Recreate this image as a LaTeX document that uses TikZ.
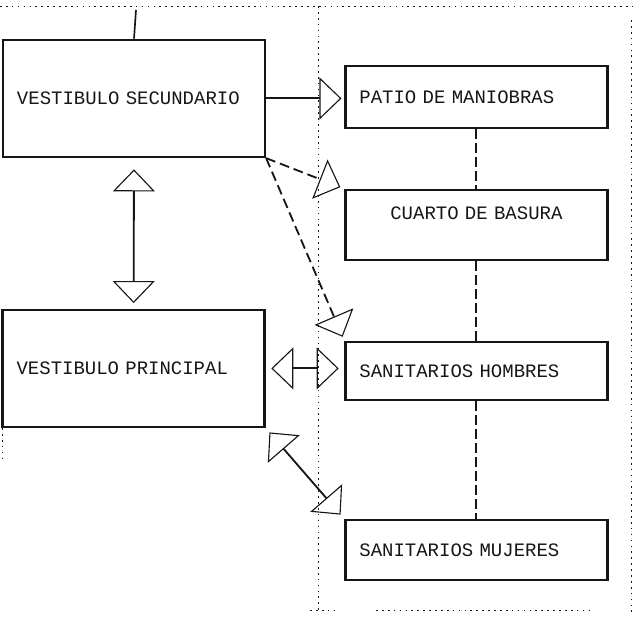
\documentclass[tikz,border=0pt]{standalone}
\usepackage{fontspec}
\setmonofont{Liberation Mono}
\usepackage{tikz}
\usetikzlibrary{arrows.meta, positioning, calc}
\definecolor{tinta}{HTML}{161616}
\tikzset{
  sala/.style={draw=tinta, line width=1.6pt, minimum width=6.55cm, inner xsep=0.35cm,
               text width=5.85cm, align=left, text=tinta,
               font=\ttfamily\fontsize{13.5}{15}\selectfont},
  flujo/.style={-{Triangle[open, length=0.55cm, width=1.05cm, line width=0.8pt]},
                line width=1.3pt, draw=tinta},
  biflujo/.style={{Triangle[open, length=0.55cm, width=1.05cm, line width=0.8pt]}-{Triangle[open, length=0.55cm, width=1.05cm, line width=0.8pt]},
                  line width=1.3pt, draw=tinta},
  liga/.style={draw=tinta, line width=1.5pt, dash pattern=on 7pt off 3pt},
  muro/.style={draw=tinta, line width=0.6pt, dash pattern=on 1.2pt off 3pt},
}

\begin{document}
\begin{tikzpicture}
  \useasboundingbox (0,0) rectangle (15.85,-15.4);
  % limites (punteados)
  \draw[muro] (0,-0.15) -- (15.85,-0.15);
  \draw[muro] (7.95,-0.15) -- (7.95,-15.3);
  \draw[muro] (15.78,-0.5) -- (15.78,-15.3);
  \draw[muro] (7.75,-15.25) -- (8.4,-15.25);
  \draw[muro] (9.4,-15.25) -- (14.75,-15.25);
  \draw[muro] (0.05,-10.7) -- (0.05,-11.55);
  % zona publica
  \node[sala, minimum height=2.93cm] (vs) at (3.35,-2.46) {VESTIBULO SECUNDARIO};
  \node[sala, minimum height=2.93cm] (vp) at (3.34,-9.21) {VESTIBULO PRINCIPAL};
  % zona de servicio
  \node[sala, minimum height=1.55cm] (pm) at (11.91,-2.42) {PATIO DE MANIOBRAS};
  \node[sala, minimum height=1.75cm, align=center, text depth=0.6cm] (cb) at (11.91,-5.62) {CUARTO DE BASURA};
  \node[sala, minimum height=1.45cm] (sh) at (11.91,-9.27) {SANITARIOS HOMBRES};
  \node[sala, minimum height=1.5cm] (sm) at (11.91,-13.75) {SANITARIOS MUJERES};
  \coordinate (acceso) at (3.4,-0.25);
  \draw[draw=tinta, line width=1.2pt] (acceso) -- (vs.north);
  % ligas de servicio
  \draw[liga] (pm) -- (cb);
  \draw[liga] (cb) -- (sh);
  \draw[liga] (sh) -- (sm);
  % circulaciones
  \draw[flujo, shorten >=2pt] (vs.east) -- (vs.east -| pm.west);
  \draw[biflujo, shorten <=8pt, shorten >=4pt] (vs.south) -- (vp.north);
  \draw[flujo, dash pattern=on 7pt off 3.5pt, shorten >=3pt] (vs.south east) -- (cb.north west);
  \draw[flujo, dash pattern=on 7pt off 3.5pt, shorten >=3pt] (vs.south east) -- (sh.north west);
  \draw[biflujo, shorten <=4pt, shorten >=4pt] (vp.east) -- (vp.east -| sh.west);
  \draw[biflujo, shorten <=4pt, shorten >=4pt] (vp.south east) -- (sm.north west);
\end{tikzpicture}
\end{document}
